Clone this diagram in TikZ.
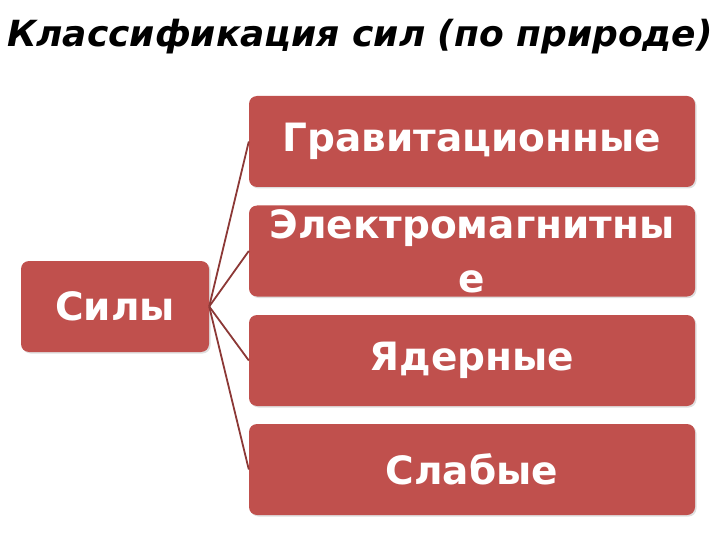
\documentclass[tikz,border=0pt]{standalone}
\usepackage{fontspec}
\setmainfont{DejaVu Sans}
\usetikzlibrary{shadows}
\definecolor{boxred}{HTML}{C0504D}
\definecolor{linered}{HTML}{8C3836}
\tikzset{
    forcebox/.style={rectangle, rounded corners=8pt, fill=boxred, text=white,
        font=\fontsize{39}{54}\selectfont\bfseries, align=center,
        minimum height=91pt, inner sep=0pt,
        drop shadow={shadow xshift=1.5pt, shadow yshift=-1.5pt, opacity=0.25}},
    link/.style={linered, line width=1.8pt}
}
\begin{document}
\begin{tikzpicture}[x=1pt, y=-1pt]
    % рамка
    \useasboundingbox (0,0) rectangle (720,540);

    % заголовок
    \node[font=\fontsize{36}{40}\selectfont\bfseries\itshape] (title) at (360,37) {Классификация сил (по природе)};

    % корень
    \node[forcebox, minimum width=188pt] (sily) at (115,306.5) {Силы};

    % виды сил
    \node[forcebox, minimum width=446pt] (grav) at (472,141.5) {Гравитационные};
    \node[forcebox, minimum width=446pt] (elmag) at (472,251) {Электромагнитны\\е};
    \node[forcebox, minimum width=446pt] (yader) at (472,360.5) {Ядерные};
    \node[forcebox, minimum width=446pt] (slab) at (472,469.5) {Слабые};

    % связи
    \foreach \n in {grav, elmag, yader, slab}
        \draw[link] (sily.east) -- (\n.west);
\end{tikzpicture}
\end{document}
